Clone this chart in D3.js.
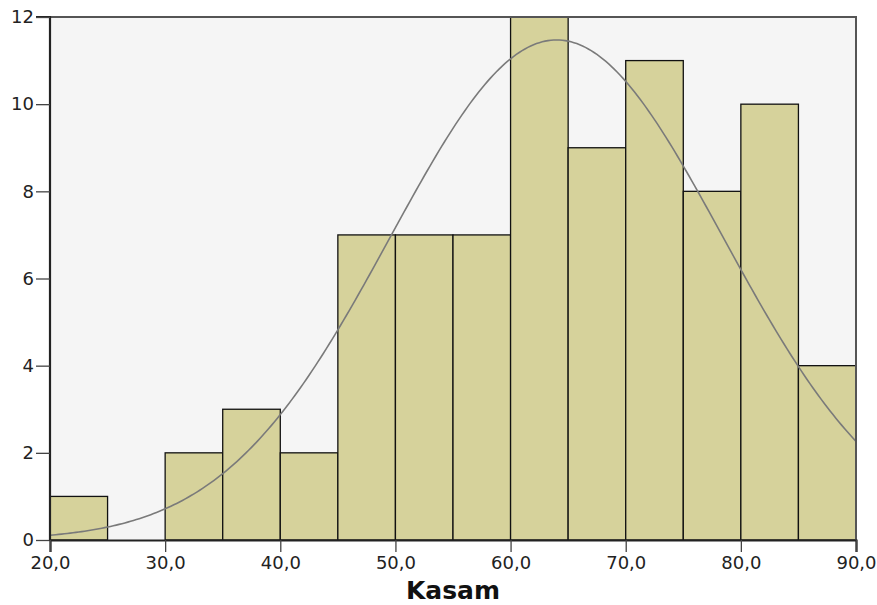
<!DOCTYPE html>
<html>
<head>
<meta charset="utf-8">
<script src="https://cdn.jsdelivr.net/npm/d3@7"></script>
<style>
  body { margin: 0; background: #fff; }
  svg { display: block; font-family: "DejaVu Sans", sans-serif; }
</style>
</head>
<body>
<svg width="877" height="605"></svg>
<script>
// histogram of Kasam, bins of width 5
var binStarts = [20, 25, 30, 35, 40, 45, 50, 55, 60, 65, 70, 75, 80, 85];
var counts = [1, 0, 2, 3, 2, 7, 7, 7, 12, 9, 11, 8, 10, 4];
var binWidth = 5;
var xTicks = [20, 30, 40, 50, 60, 70, 80, 90];
var yTicks = [0, 2, 4, 6, 8, 10, 12];
// normal curve fitted to the data
var curveMean = 64.0;
var curveSd = 14.43;
var total = d3.sum(counts);

var svg = d3.select('svg');
var padding = { t: 17, r: 21, b: 65, l: 50 };
var chartWidth = +svg.attr('width') - padding.l - padding.r;
var chartHeight = +svg.attr('height') - padding.t - padding.b;

var xScale = d3.scaleLinear().domain([20, 90]).range([0, chartWidth]);
var yScale = d3.scaleLinear().domain([0, 12]).range([chartHeight, 0]);

var chartG = svg.append('g')
    .attr('transform', 'translate(' + padding.l + ',' + padding.t + ')');

// plot background
chartG.append('rect')
    .attr('width', chartWidth)
    .attr('height', chartHeight)
    .style('fill', '#f5f5f5');

// bars
chartG.selectAll('.bar')
    .data(binStarts.map(function(d, i) { return { x0: d, n: counts[i] }; }).filter(function(d) { return d.n > 0; }))
    .enter().append('rect')
    .attr('class', 'bar')
    .attr('x', function(d) { return xScale(d.x0); })
    .attr('y', function(d) { return yScale(d.n); })
    .attr('width', function(d) { return xScale(d.x0 + binWidth) - xScale(d.x0); })
    .attr('height', function(d) { return chartHeight - yScale(d.n); })
    .style('fill', '#d6d29b')
    .style('stroke', '#111')
    .style('stroke-width', 1.3);

// normal curve
var curvePts = d3.range(20, 90.01, 0.25).map(function(v) {
    var z = (v - curveMean) / curveSd;
    return [v, total * binWidth * Math.exp(-0.5 * z * z) / (curveSd * Math.sqrt(2 * Math.PI))];
});
chartG.append('path')
    .datum(curvePts)
    .attr('d', d3.line().x(function(d) { return xScale(d[0]); }).y(function(d) { return yScale(d[1]); }))
    .style('fill', 'none')
    .style('stroke', '#7a7a7a')
    .style('stroke-width', 1.6);

// frame top and right
chartG.append('path')
    .attr('d', 'M0,0H' + chartWidth + 'V' + chartHeight)
    .style('fill', 'none')
    .style('stroke', '#555')
    .style('stroke-width', 2);

// axes
var yAxis = chartG.append('g')
    .call(d3.axisLeft(yScale).tickValues(yTicks).tickSize(14).tickPadding(2).tickFormat(d3.format('d')));
var xAxis = chartG.append('g')
    .attr('transform', 'translate(0,' + chartHeight + ')')
    .call(d3.axisBottom(xScale).tickValues(xTicks).tickSize(12).tickPadding(4)
        .tickFormat(function(d) { return d3.format('.1f')(d).replace('.', ','); }));

[yAxis, xAxis].forEach(function(ax) {
    ax.select('.domain').style('stroke', '#222').style('stroke-width', 2.2);
    ax.selectAll('.tick line').style('stroke', '#444').style('stroke-width', 1.3);
    ax.selectAll('.tick text').style('font-size', '18px').style('fill', '#222')
        .style('font-family', '"DejaVu Sans", sans-serif');
});
yAxis.select('.domain').attr('d', 'M-14,0H0V' + chartHeight);

// axis title
chartG.append('text')
    .attr('x', chartWidth / 2)
    .attr('y', chartHeight + 59)
    .attr('text-anchor', 'middle')
    .style('font-size', '25px')
    .style('font-weight', 'bold')
    .style('fill', '#111')
    .text('Kasam');
</script>
</body>
</html>
